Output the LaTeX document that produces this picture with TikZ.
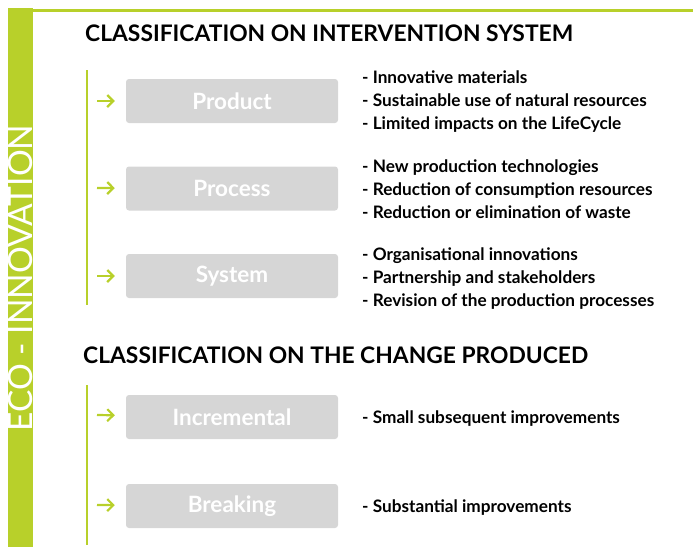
\documentclass[tikz,border=0pt]{standalone}
\usepackage{fontspec}
\setmainfont{Lato}
\usepackage{tikz}
\usetikzlibrary{arrows.meta, positioning}
\definecolor{ecogreen}{RGB}{184,208,42}
\definecolor{boxgray}{RGB}{214,214,214}
\tikzstyle{category} = [rectangle, rounded corners=3pt, minimum width=212pt, minimum height=44pt, text centered, fill=boxgray, text=white, font=\bfseries\fontsize{22.5}{26}\selectfont]
\tikzstyle{heading} = [anchor=west, inner sep=0pt, font=\bfseries\fontsize{22.8}{26}\selectfont]
\tikzstyle{bullets} = [anchor=west, inner sep=0pt, align=left, font=\bfseries\fontsize{17.2}{23}\selectfont]
\tikzstyle{arrow} = [ecogreen, line width=2.2pt, -{Straight Barb[length=6pt, width=12pt]}, shorten >=11pt]

\begin{document}
\begin{tikzpicture}[x=1pt, y=-1pt, node distance=87.5pt]
\useasboundingbox (0,0) rectangle (693,547);

% green side band
\fill[ecogreen] (8,8) rectangle (33,547);
\draw[ecogreen, line width=3pt] (33,10) -- (693,10);
\node (band) [rotate=90, anchor=south, inner sep=0pt, text=white, font=\fontsize{33.5}{34}\selectfont] at (32.5,278) {ECO - INNOVATION};

% first classification
\node (title1) [heading] at (85,33) {CLASSIFICATION ON INTERVENTION SYSTEM};
\node (product) [category] at (232,101) {Product};
\node (process) [category, below of=product] {Process};
\node (system) [category, below of=process] {System};
\draw[ecogreen, line width=1.5pt] (87,70) -- (87,305);

\node (prodlist) [bullets] at (362,102) {- Innovative materials\\- Sustainable use of natural resources\\- Limited impacts on the LifeCycle};
\node (proclist) [bullets] at (362,189) {- New production technologies\\- Reduction of consumption resources\\- Reduction or elimination of waste};
\node (syslist) [bullets] at (362,279) {- Organisational innovations\\- Partnership and stakeholders\\- Revision of the production processes};

\coordinate (a1) at (97,101);
\coordinate (a2) at (97,188);
\coordinate (a3) at (97,276);
\draw [arrow] (a1) -- (product);
\draw [arrow] (a2) -- (process);
\draw [arrow] (a3) -- (system);

% second classification
\node (title2) [heading] at (83,355) {CLASSIFICATION ON THE CHANGE PRODUCED};
\node (incr) [category] at (232,417) {Incremental};
\node (brk) [category, below of=incr, yshift=-1.5pt] {Breaking};
\draw[ecogreen, line width=1.5pt] (87,385) -- (87,545);

\node (incrlist) [bullets] at (362,419) {- Small subsequent improvements};
\node (brklist) [bullets] at (362,508) {- Substantial improvements};

\coordinate (a4) at (97,415);
\coordinate (a5) at (97,505);
\draw [arrow] (a4) -- (incr);
\draw [arrow] (a5) -- (brk);

\end{tikzpicture}
\end{document}
